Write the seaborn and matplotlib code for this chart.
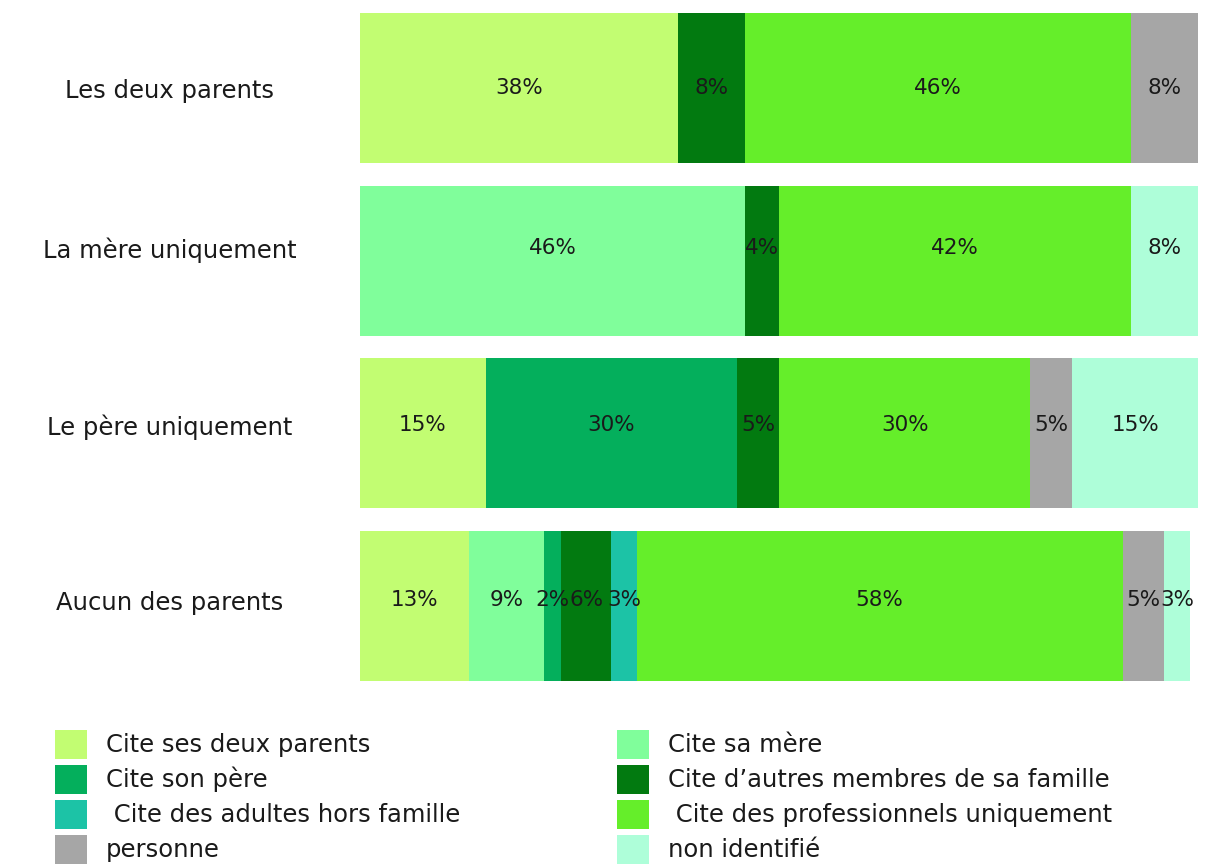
import matplotlib
matplotlib.use("Agg")
import matplotlib.pyplot as plt
import matplotlib.transforms as mtransforms
import seaborn as sns
import numpy as np
import pandas as pd
from matplotlib.patches import Patch

categories = ["Les deux parents", "La mère uniquement", "Le père uniquement", "Aucun des parents"]
series = ["Cite ses deux parents", "Cite sa mère", "Cite son père", "Cite d\u2019autres membres de sa famille",
          " Cite des adultes hors famille", " Cite des professionnels uniquement", "personne", "non identifié"]
deux_parents = [38, 0, 15, 13]
mere = [0, 46, 0, 9]
pere = [0, 0, 30, 2]
autres_membres = [8, 4, 5, 6]
adultes_hors = [0, 0, 0, 3]
professionnels = [46, 42, 30, 58]
personne = [8, 0, 5, 5]
non_identifie = [0, 8, 15, 3]
colors = ["#C2FD72", "#80FE9B", "#04AF5C", "#027A10", "#1CC3A6", "#65EE2A", "#A6A6A6", "#AEFED9"]

values = [deux_parents, mere, pere, autres_membres, adultes_hors, professionnels, personne, non_identifie]

sns.set_theme(style="white")
plt.rcParams['font.family'] = ['DejaVu Sans']

fig = plt.figure(figsize=(12.06, 8.66), dpi=100)
ax = fig.add_axes([360/1206, 1-681/866, (1198-360)/1206, (681-13)/866])

arr = np.array(values, dtype=float)  # series x categories
cum = np.cumsum(arr, axis=0)

# draw cumulative totals from last to first so each segment shows
for i in range(len(series)-1, -1, -1):
    df = pd.DataFrame({"cat": categories, "val": cum[i]})
    sns.barplot(data=df, y="cat", x="val", orient="h", color=colors[i],
                width=0.87, saturation=1, ax=ax, edgecolor="none", linewidth=0)

# small vertical text offsets per row (in points, upward)
row_text_shift = [0, 9, 6, 4]

for i in range(len(series)):
    for j in range(len(categories)):
        v = arr[i, j]
        if v > 0:
            tr = ax.transData + mtransforms.ScaledTranslation(0, row_text_shift[j]/72, fig.dpi_scale_trans)
            ax.text(cum[i, j] - v/2, j, f"{int(v)}%", ha="center", va="center",
                    fontsize=15.5, color="#1a1a1a", transform=tr)

ax.set_xlim(0, 100)
ax.set_ylim(3 + 0.435, -0.435)
ax.set_xlabel("")
ax.set_ylabel("")
ax.set_xticks([])
for s in ax.spines.values():
    s.set_visible(False)
ax.tick_params(axis="y", length=0, pad=137)
for j, lab in enumerate(ax.get_yticklabels()):
    lab.set_ha("center")
    lab.set_fontsize(17.5)
    lab.set_color("#1a1a1a")
    lab.set_transform(lab.get_transform() + mtransforms.ScaledTranslation(0, row_text_shift[j]/72, fig.dpi_scale_trans))

handles = [Patch(facecolor=c, edgecolor="none") for c in colors]
leg_kw = dict(loc="upper left", frameon=False, fontsize=17.5, handlelength=1.3, handleheight=1.45,
              handletextpad=0.8, labelspacing=0.25, borderaxespad=0, borderpad=0)
left_idx = [0, 2, 4, 6]
right_idx = [1, 3, 5, 7]
leg1 = fig.legend([handles[k] for k in left_idx], [series[k] for k in left_idx],
                  bbox_to_anchor=(55/1206, 1-730/866), **leg_kw)
leg2 = fig.legend([handles[k] for k in right_idx], [series[k] for k in right_idx],
                  bbox_to_anchor=(617/1206, 1-730/866), **leg_kw)
for leg in (leg1, leg2):
    for t in leg.get_texts():
        t.set_color("#1a1a1a")

fig.savefig("out.png", dpi=100)
